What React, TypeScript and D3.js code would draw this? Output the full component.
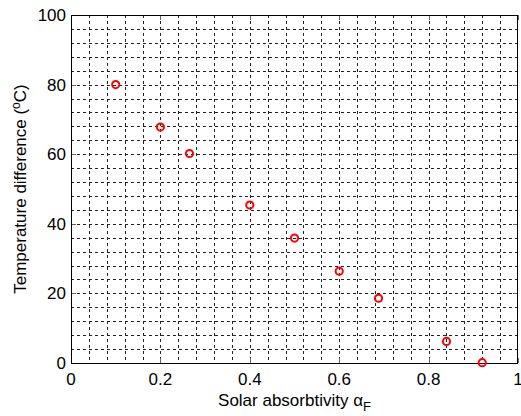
import React, { useEffect, useRef } from "react";
import * as d3 from "d3";

// solar absorbtivity vs temperature difference
const alphaF = [0.1, 0.2, 0.265, 0.4, 0.5, 0.6, 0.688, 0.84, 0.92];
const tempDiff = [80, 67.8, 60.2, 45.4, 35.9, 26.4, 18.6, 6.2, 0.1];

const xTicks = [0, 0.2, 0.4, 0.6, 0.8, 1];
const yTicks = [0, 20, 40, 60, 80, 100];

const W = 521;
const H = 416;
const margin = { top: 15, right: 3, bottom: 53, left: 71 };
const font = "Arial, 'Liberation Sans', sans-serif";

export default function App() {
  const ref = useRef<SVGSVGElement>(null);

  useEffect(() => {
    const svg = d3.select(ref.current);
    svg.selectAll("*").remove();

    const x = d3.scaleLinear().domain([0, 1]).range([margin.left, W - margin.right]);
    const y = d3.scaleLinear().domain([0, 100]).range([H - margin.bottom, margin.top]);
    const [x0, x1] = x.range();
    const [y0, y1] = y.range();

    svg.append("rect").attr("width", W).attr("height", H).attr("fill", "#fff");

    // minor dotted grid
    const gx = d3.range(1, 25).map((i) => i * 0.04);
    const gy = d3.range(1, 25).map((i) => i * 4);
    const grid = svg.append("g")
      .attr("stroke", "#222")
      .attr("stroke-width", 1)
      .attr("stroke-dasharray", "3,3")
      .attr("shape-rendering", "crispEdges");
    grid.selectAll("line.v").data(gx).join("line")
      .attr("x1", (d) => Math.round(x(d)) + 0.5).attr("x2", (d) => Math.round(x(d)) + 0.5)
      .attr("y1", y1).attr("y2", y0);
    grid.selectAll("line.h").data(gy).join("line")
      .attr("y1", (d) => Math.round(y(d)) + 0.5).attr("y2", (d) => Math.round(y(d)) + 0.5)
      .attr("x1", x0).attr("x2", x1);

    // major ticks, inward on all sides
    const ticks = svg.append("g").attr("stroke", "#666").attr("stroke-width", 1)
      .attr("shape-rendering", "crispEdges");
    xTicks.forEach((t) => {
      const px = Math.round(x(t)) + 0.5;
      ticks.append("line").attr("x1", px).attr("x2", px).attr("y1", y0).attr("y2", y0 - 5);
      ticks.append("line").attr("x1", px).attr("x2", px).attr("y1", y1).attr("y2", y1 + 5);
    });
    yTicks.forEach((t) => {
      const py = Math.round(y(t)) + 0.5;
      ticks.append("line").attr("x1", x0).attr("x2", x0 + 5).attr("y1", py).attr("y2", py);
      ticks.append("line").attr("x1", x1).attr("x2", x1 - 5).attr("y1", py).attr("y2", py);
    });

    // box
    svg.append("rect")
      .attr("x", x0 + 0.5).attr("y", y1 + 0.5)
      .attr("width", x1 - x0 - 1).attr("height", y0 - y1)
      .attr("fill", "none").attr("stroke", "#000").attr("stroke-width", 1)
      .attr("shape-rendering", "crispEdges");

    // tick labels
    svg.append("g").selectAll("text").data(xTicks).join("text")
      .attr("x", (d) => x(d)).attr("y", y0 + 22)
      .attr("text-anchor", "middle")
      .attr("font-family", font).attr("font-size", 17).attr("fill", "#000")
      .text((d) => String(d));
    svg.append("g").selectAll("text").data(yTicks).join("text")
      .attr("x", x0 - 5).attr("y", (d) => y(d) + 6)
      .attr("text-anchor", "end")
      .attr("font-family", font).attr("font-size", 17).attr("fill", "#000")
      .text((d) => String(d));

    // axis labels
    const xl = svg.append("text")
      .attr("x", (x0 + x1) / 2).attr("y", 406)
      .attr("text-anchor", "middle")
      .attr("font-family", font).attr("font-size", 17).attr("fill", "#000");
    xl.append("tspan").text("Solar absorbtivity α");
    xl.append("tspan").attr("dy", 5).attr("font-size", 13).text("F");

    const yl = svg.append("text")
      .attr("transform", `translate(26,${(y0 + y1) / 2}) rotate(-90)`)
      .attr("text-anchor", "middle")
      .attr("font-family", font).attr("font-size", 17).attr("fill", "#000");
    yl.append("tspan").text("Temperature difference (");
    yl.append("tspan").attr("dy", -6).attr("font-size", 12).text("o");
    yl.append("tspan").attr("dy", 6).text("C)");

    // data markers
    svg.append("g").selectAll("circle").data(alphaF).join("circle")
      .attr("cx", (d) => x(d)).attr("cy", (_, i) => y(tempDiff[i]))
      .attr("r", 3.6)
      .attr("fill", "none").attr("stroke", "#ff0000").attr("stroke-width", 2);
  }, []);

  return (
    <div style={{ position: "absolute", left: 0, top: 0 }}>
      <svg ref={ref} width={W} height={H} viewBox={`0 0 ${W} ${H}`} />
    </div>
  );
}
